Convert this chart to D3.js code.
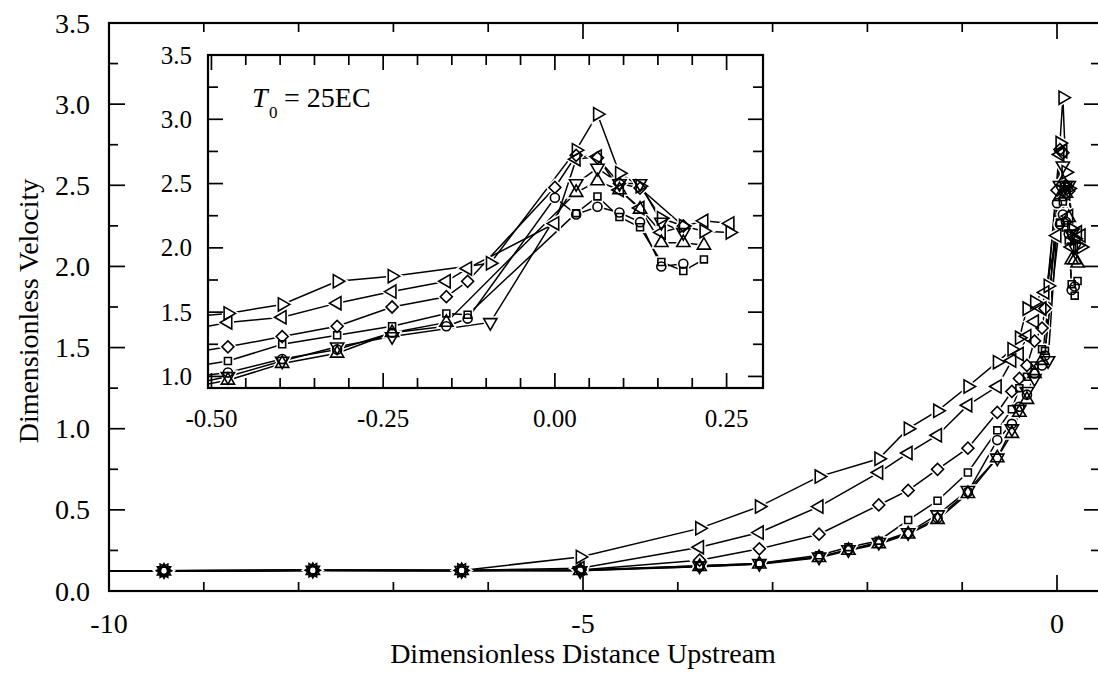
<!DOCTYPE html>
<html>
<head>
<meta charset="utf-8">
<script src="https://cdnjs.cloudflare.com/ajax/libs/d3/7.8.5/d3.min.js"></script>
<style>
  body { margin: 0; background: #fff; }
  svg { display: block; }
  text { font-family: "Liberation Serif", "Times New Roman", "DejaVu Serif", serif; }
</style>
</head>
<body>
<svg id="chart" width="1098" height="680"></svg>
<script>
// dimensionless distance upstream, shared grid (null = no reading for that run)
var distance = [-11.0, -9.42, -7.85, -6.28, -5.03, -3.77, -3.14, -2.51, -2.20, -1.88,
                -1.57, -1.26, -0.94, -0.63, -0.476, -0.397, -0.317, -0.237, -0.158, -0.127,
                -0.094, 0.000, 0.031, 0.062, 0.094, 0.124, 0.155, 0.187, 0.217, 0.255];

var triRight = [0.123, 0.125, 0.128, 0.127, 0.21, 0.386, 0.52, 0.705, null, 0.815,
                1.00, 1.11, 1.26, 1.41, 1.49, 1.56, 1.74, 1.78, null, null,
                1.88, null, 2.76, 3.04, 2.58, 2.48, 2.23, 2.17, 2.13, 2.12];
var triLeft  = [0.123, 0.125, 0.128, 0.127, 0.14, 0.27, 0.36, 0.52, null, 0.73,
                0.85, 0.96, 1.145, 1.26, 1.42, 1.46, 1.57, 1.66, 1.74, 1.84,
                null, 2.19, 2.69, 2.71, 2.45, 2.31, 2.12, null, 2.21, 2.19];
var diamond  = [0.123, 0.125, 0.128, 0.127, 0.13, 0.19, 0.26, 0.35, null, 0.53,
                0.62, 0.75, 0.88, 1.10, 1.23, 1.31, 1.39, 1.54, 1.62, 1.74,
                null, 2.47, 2.72, 2.70, 2.50, 2.465, null, 2.17, null, null];
var square   = [0.123, 0.125, 0.128, 0.127, 0.13, 0.155, 0.17, 0.22, 0.27, 0.31,
                0.437, 0.556, 0.73, 0.99, 1.12, 1.25, 1.32, 1.39, 1.49, 1.48,
                null, null, 2.27, 2.40, 2.24, 2.16, 1.89, 1.82, 1.91, null];
var circle   = [0.123, 0.125, 0.128, 0.127, 0.13, 0.15, 0.168, 0.21, 0.255, 0.294,
                0.355, 0.45, 0.61, 0.93, 1.03, 1.135, 1.21, 1.34, 1.39, 1.45,
                null, 2.39, 2.26, 2.32, 2.275, 2.20, 1.855, 1.876, null, null];
var triUp    = [0.12, 0.122, 0.125, 0.125, 0.125, 0.15, 0.165, 0.205, 0.25, 0.29,
                0.35, 0.44, 0.60, 0.82, 0.97, 1.10, 1.18, 1.34, 1.42, null,
                null, null, 2.43, 2.52, 2.45, 2.30, 2.04, 2.04, 2.02, null];
var triDown  = [0.123, 0.125, 0.128, 0.127, 0.125, 0.155, 0.17, 0.21, 0.255, 0.30,
                0.36, 0.47, 0.62, 0.82, 1.00, 1.12, 1.23, 1.31, null, null,
                1.42, null, 2.50, 2.62, 2.50, 2.50, 2.20, 2.12, null, null];

var seriesNames = ["triRight", "triLeft", "diamond", "square", "circle", "triUp", "triDown"];
var seriesValues = [triRight, triLeft, diamond, square, circle, triUp, triDown];

var mainXTicks = [-10, -5, 0];
var mainYTicks = [0.0, 0.5, 1.0, 1.5, 2.0, 2.5, 3.0, 3.5];
var insetXTicks = [-0.50, -0.25, 0.00, 0.25];
var insetYTicks = [1.0, 1.5, 2.0, 2.5, 3.0, 3.5];

// marker look per series
var markers = {
  triRight: {type: d3.symbolTriangle, size: 76, rotate: 90},
  triLeft:  {type: d3.symbolTriangle, size: 76, rotate: -90},
  diamond:  {type: d3.symbolSquare,   size: 72, rotate: 45},
  square:   {type: d3.symbolSquare,   size: 48, rotate: 0},
  circle:   {type: d3.symbolCircle,   size: 64, rotate: 0},
  triUp:    {type: d3.symbolTriangle, size: 76, rotate: 0},
  triDown:  {type: d3.symbolTriangle, size: 76, rotate: 180}
};

var series = seriesNames.map(function(name, i) {
  return {
    name: name,
    points: distance.map(function(d, j) { return {x: d, y: seriesValues[i][j]}; })
                    .filter(function(p) { return p.y != null; })
  };
});

var serif = "Liberation Serif, Times New Roman, DejaVu Serif, serif";
var svg = d3.select("#chart").attr("font-family", serif);

function fmt(v, digits) {
  return d3.format("." + digits + "f")(v).replace("\u2212", "-");
}

function drawTicks(g, scale, values, len, side, box) {
  g.selectAll(null).data(values).enter().append("line")
    .attr("x1", function(v) { return side == "left" ? box.left : side == "right" ? box.right : scale(v); })
    .attr("x2", function(v) { return side == "left" ? box.left + len : side == "right" ? box.right - len : scale(v); })
    .attr("y1", function(v) { return side == "top" ? box.top : side == "bottom" ? box.bottom : scale(v); })
    .attr("y2", function(v) { return side == "top" ? box.top + len : side == "bottom" ? box.bottom - len : scale(v); })
    .attr("stroke", "#000")
    .attr("stroke-width", 1.7);
}

function drawPanel(g, x, y, box, clipId, tickInfo) {
  g.append("rect")
    .attr("x", box.left).attr("y", box.top)
    .attr("width", box.right - box.left).attr("height", box.bottom - box.top)
    .attr("fill", "#fff");

  g.append("clipPath").attr("id", clipId).append("rect")
    .attr("x", box.left).attr("y", box.top)
    .attr("width", box.right - box.left).attr("height", box.bottom - box.top);

  var plot = g.append("g").attr("clip-path", "url(#" + clipId + ")");
  var lineLayer = plot.append("g");
  var haloLayer = plot.append("g");
  var markLayer = plot.append("g");

  var line = d3.line()
    .x(function(p) { return x(p.x); })
    .y(function(p) { return y(p.y); });

  series.forEach(function(s) {
    lineLayer.append("path")
      .attr("d", line(s.points))
      .attr("fill", "none")
      .attr("stroke", "#000")
      .attr("stroke-width", 1.5);

    var m = markers[s.name];
    var sym = d3.symbol().type(m.type).size(m.size);
    var pts = s.points.filter(function(p) {
      return x(p.x) > box.left - 10 && x(p.x) < box.right + 10;
    });
    var place = function(p) { return "translate(" + x(p.x) + "," + y(p.y) + ") rotate(" + m.rotate + ")"; };
    // white halo under every marker so the lines stop short of it
    haloLayer.selectAll(null).data(pts).enter().append("path")
      .attr("d", sym).attr("transform", place)
      .attr("fill", "#fff").attr("stroke", "#fff").attr("stroke-width", 4.5);
    // open outlines on top, so stacked markers all stay visible
    markLayer.selectAll(null).data(pts).enter().append("path")
      .attr("d", sym).attr("transform", place)
      .attr("fill", "none").attr("stroke", "#000").attr("stroke-width", 1.6);
  });

  var t = g.append("g");
  drawTicks(t, x, tickInfo.xMajor, tickInfo.majorLen, "bottom", box);
  drawTicks(t, x, tickInfo.xMinor, tickInfo.minorLen, "bottom", box);
  drawTicks(t, x, tickInfo.xMajor, tickInfo.majorLen, "top", box);
  drawTicks(t, x, tickInfo.xMinor, tickInfo.minorLen, "top", box);
  drawTicks(t, y, tickInfo.yMajor, tickInfo.majorLen, "left", box);
  drawTicks(t, y, tickInfo.yMinor, tickInfo.minorLen, "left", box);
  drawTicks(t, y, tickInfo.yMajor, tickInfo.majorLen, "right", box);
  drawTicks(t, y, tickInfo.yMinor, tickInfo.minorLen, "right", box);

  g.append("rect")
    .attr("x", box.left).attr("y", box.top)
    .attr("width", box.right - box.left).attr("height", box.bottom - box.top)
    .attr("fill", "none").attr("stroke", "#000").attr("stroke-width", 2.2);
}

// ---- main plot ----
var mainBox = {left: 109, right: 1100, top: 23, bottom: 591};
var x = d3.scaleLinear().domain([-10, 0.4536]).range([mainBox.left, mainBox.right]);
var y = d3.scaleLinear().domain([0, 3.5]).range([mainBox.bottom, mainBox.top]);

var mainG = svg.append("g");
drawPanel(mainG, x, y, mainBox, "clipMain", {
  xMajor: mainXTicks, xMinor: d3.range(-9, 1, 1).filter(function(v) { return v % 5 != 0; }),
  yMajor: mainYTicks, yMinor: d3.range(0.25, 3.5, 0.5),
  majorLen: 16, minorLen: 9
});

mainG.selectAll(null).data(mainYTicks).enter().append("text")
  .attr("x", mainBox.left - 19)
  .attr("y", function(v) { return y(v) + 9.5; })
  .attr("text-anchor", "end")
  .attr("font-size", 28)
  .text(function(v) { return fmt(v, 1); });

mainG.selectAll(null).data(mainXTicks).enter().append("text")
  .attr("x", function(v) { return x(v); })
  .attr("y", 633)
  .attr("text-anchor", "middle")
  .attr("font-size", 28)
  .text(function(v) { return fmt(v, 0); });

svg.append("text")
  .attr("x", x(-5)).attr("y", 663)
  .attr("text-anchor", "middle")
  .attr("font-size", 28)
  .text("Dimensionless Distance Upstream");

svg.append("text")
  .attr("transform", "translate(38," + ((mainBox.top + mainBox.bottom) / 2 + 4) + ") rotate(-90)")
  .attr("text-anchor", "middle")
  .attr("font-size", 28)
  .text("Dimensionless Velocity");

// ---- inset ----
var insetBox = {left: 208, right: 763, top: 55, bottom: 388};
var xi = d3.scaleLinear().domain([-0.505, 0.303]).range([insetBox.left, insetBox.right]);
var yi = d3.scaleLinear().domain([0.91, 3.5]).range([insetBox.bottom, insetBox.top]);

var insetG = svg.append("g");
drawPanel(insetG, xi, yi, insetBox, "clipInset", {
  xMajor: insetXTicks, xMinor: d3.range(-0.45, 0.30, 0.05).filter(function(v) { return Math.abs(v * 4 - Math.round(v * 4)) > 0.01; }),
  yMajor: insetYTicks, yMinor: d3.range(1.25, 3.5, 0.5),
  majorLen: 15, minorLen: 10
});

insetG.selectAll(null).data(insetYTicks).enter().append("text")
  .attr("x", insetBox.left - 16)
  .attr("y", function(v) { return yi(v) + 8.5; })
  .attr("text-anchor", "end")
  .attr("font-size", 25)
  .text(function(v) { return fmt(v, 1); });

insetG.selectAll(null).data(insetXTicks).enter().append("text")
  .attr("x", function(v) { return xi(v); })
  .attr("y", 427)
  .attr("text-anchor", "middle")
  .attr("font-size", 25)
  .text(function(v) { return fmt(v, 2); });

var label = insetG.append("g").attr("font-size", 28);
label.append("text").attr("x", 252).attr("y", 107).attr("font-style", "italic").text("T");
label.append("text").attr("x", 269).attr("y", 118).attr("font-size", 17).text("0");
label.append("text").attr("x", 284).attr("y", 107).text("= 25EC");
</script>
</body>
</html>
